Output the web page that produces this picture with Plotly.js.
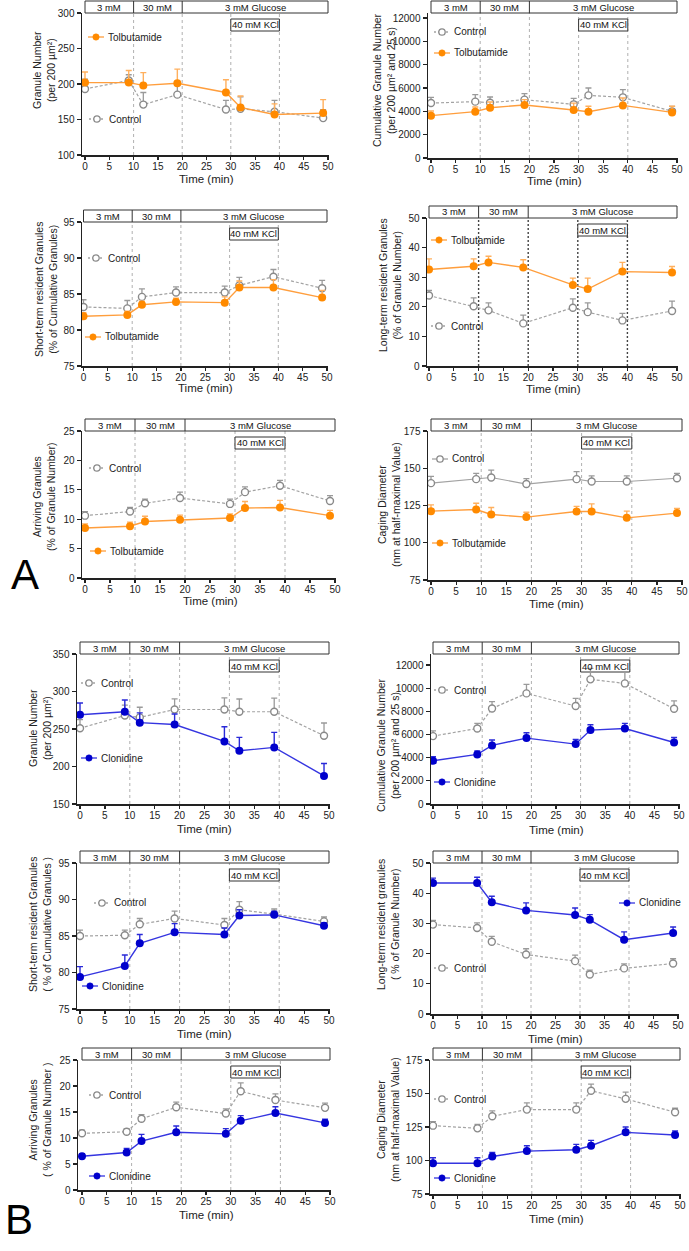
<!DOCTYPE html>
<html><head><meta charset="utf-8">
<script src="https://cdn.plot.ly/plotly-3.0.1.min.js"></script>
<style>body{margin:0;background:#fff}#chart{width:689px;height:1251px}</style>
</head><body><div id="chart"></div>
<script>
// ---------- DATA ----------
const time = [0, 9, 12, 19, 29, 32, 39, 49];
const timeTicks = [0, 5, 10, 15, 20, 25, 30, 35, 40, 45, 50];
const phaseLabels = ['3 mM', '30 mM', '3 mM Glucose'];
const kclLabel = '40 mM KCl';

// Panel A (Tolbutamide)
const a1Control = [193, 205, 171, 185, 164, 165, 161, 152];
const a1ControlErr = [14, 8, 17, 13, 13, 17, 16, 12];
const a1Tolb = [202, 202, 198, 201, 188, 167, 157, 159];
const a1TolbErr = [15, 17, 18, 20, 18, 16, 15, 19];

const a2Control = [4710, 4830, 4740, 5000, 4600, 5370, 5200, 4000];
const a2ControlErr = [490, 600, 490, 510, 510, 630, 660, 430];
const a2Tolb = [3630, 3970, 4310, 4540, 4110, 3970, 4510, 3910];
const a2TolbErr = [400, 400, 490, 460, 590, 460, 630, 520];

const a3Control = [83.2, 83.0, 84.6, 85.2, 85.2, 86.2, 87.4, 85.8];
const a3ControlErr = [1.0, 1.1, 1.1, 0.8, 0.9, 1.1, 1.0, 1.1];
const a3Tolb = [81.9, 82.1, 83.5, 83.9, 83.8, 85.9, 85.9, 84.5];
const a3TolbErr = [0.5, 0.5, 0.5, 0.5, 0.8, 0.9, 1.1, 1.0];

const a4Control = [23.8, 20.2, 18.8, 14.4, 19.7, 18.2, 15.4, 18.6];
const a4ControlErr = [1.7, 2.8, 2.5, 2.8, 3.0, 3.1, 2.4, 3.3];
const a4Tolb = [32.6, 33.7, 35.0, 33.3, 27.4, 26.0, 31.9, 31.6];
const a4TolbErr = [3.6, 2.5, 2.1, 2.6, 2.3, 3.7, 3.1, 2.0];

const a5Control = [10.6, 11.3, 12.7, 13.6, 12.6, 14.6, 15.7, 13.1];
const a5ControlErr = [0.7, 0.7, 0.7, 1.0, 0.8, 0.9, 0.9, 0.9];
const a5Tolb = [8.5, 8.8, 9.6, 9.9, 10.2, 11.9, 12.0, 10.6];
const a5TolbErr = [0.7, 0.7, 0.9, 0.8, 0.7, 1.1, 1.2, 0.9];

const a6Control = [140.0, 142.7, 143.8, 139.4, 142.7, 141.1, 141.1, 143.3];
const a6ControlErr = [4.5, 3.8, 4.9, 3.7, 5.1, 3.8, 3.8, 3.2];
const a6Tolb = [121.2, 122.3, 119.0, 117.2, 121.0, 121.0, 116.7, 119.9];
const a6TolbErr = [4.2, 4.2, 4.7, 3.3, 3.4, 5.1, 4.5, 3.1];

// Panel B (Clonidine)
const b1Control = [251, 268, 265.5, 276, 276, 273, 273, 241];
const b1ControlErr = [11.6, 13.8, 13.5, 14.2, 15.5, 17, 18.3, 17];
const b1Clon = [269, 273, 258.5, 256, 233.5, 221, 225.5, 187.5];
const b1ClonErr = [15.6, 15.6, 13, 14, 19.6, 17.8, 20, 16.5];

const b2Control = [5860, 6520, 8250, 9550, 8460, 10760, 10410, 8220];
const b2ControlErr = [460, 440, 580, 780, 660, 950, 1000, 690];
const b2Clon = [3730, 4280, 5060, 5690, 5170, 6380, 6520, 5310];
const b2ClonErr = [350, 290, 460, 460, 410, 460, 440, 430];

const b3Control = [85.0, 85.1, 86.6, 87.4, 86.5, 88.6, 88.0, 87.0];
const b3ControlErr = [0.8, 0.7, 0.8, 1.0, 0.9, 1.1, 0.7, 0.6];
const b3Clon = [79.4, 80.9, 84.0, 85.5, 85.2, 87.8, 87.9, 86.4];
const b3ClonErr = [1.4, 1.5, 1.2, 1.2, 0.9, 0.8, 0.5, 0.4];

const b4Control = [29.6, 28.5, 23.9, 19.7, 17.5, 13.1, 15.1, 16.7];
const b4ControlErr = [1.4, 1.7, 1.8, 1.9, 2.0, 1.4, 1.5, 1.6];
const b4Clon = [43.4, 43.4, 37.0, 34.3, 32.8, 31.2, 24.6, 26.8];
const b4ClonErr = [1.6, 1.9, 2.0, 2.5, 2.3, 1.7, 2.6, 2.0];

const b5Control = [10.9, 11.2, 13.7, 15.9, 14.7, 19.0, 17.3, 15.8];
const b5ControlErr = [0.6, 0.6, 0.8, 1.0, 0.9, 1.6, 1.2, 0.9];
const b5Clon = [6.5, 7.2, 9.4, 11.1, 10.8, 13.3, 14.8, 12.9];
const b5ClonErr = [0.5, 0.8, 1.3, 1.2, 1.0, 1.0, 1.2, 0.7];

const b6Control = [126, 124, 133, 138, 138, 152, 146, 136];
const b6ControlErr = [3, 3, 4, 5, 5, 5, 5, 3];
const b6Clon = [98, 98, 103, 107, 108, 111, 121, 119];
const b6ClonErr = [4, 4, 3, 4, 4, 4, 4, 3];

// Y tick values
const ticksGranule = [100, 150, 200, 250, 300];
const ticksGranuleB = [150, 200, 250, 300, 350];
const ticksCumul = [0, 2000, 4000, 6000, 8000, 10000, 12000];
const ticksShort = [75, 80, 85, 90, 95];
const ticksLong = [0, 10, 20, 30, 40, 50];
const ticksArriving = [0, 5, 10, 15, 20, 25];
const ticksCaging = [75, 100, 125, 150, 175];

// ---------- STYLE / LAYOUT CONFIG ----------
const W = 689, H = 1251;
const FONT = 'Liberation Sans, Arial, sans-serif';
const STY = {
  orange: {marker: '#ff8a00', line: '#ff9e3d', err: '#ffb05e'},
  blue: {marker: '#0000cc', line: '#3535e0', err: '#2a2ad8'},
  grey: {marker: '#8a8a8a', line: '#a3a3a3', err: '#9a9a9a'}
};

const panels = [
  {ctrl: a1Control, ctrlErr: a1ControlErr, trt: a1Tolb, trtErr: a1TolbErr, drug: 'Tolbutamide', color: 'orange', ctrlDash: true, vdark: false,
   axisPx: 82, x0Px: 85, x50Px: 328, topPx: 13, botPx: 155, cal: [[100, 155], [300, 13]], ticks: ticksGranule,
   title: 'Granule Number<br>(per 200 µm²)', titleX: 44, titleY: 70, timeY: 179, legCtrl: [97, 119], legTrt: [96, 37]},
  {ctrl: a2Control, ctrlErr: a2ControlErr, trt: a2Tolb, trtErr: a2TolbErr, drug: 'Tolbutamide', color: 'orange', ctrlDash: true, vdark: false,
   axisPx: 428, x0Px: 431, x50Px: 677, topPx: 13, botPx: 158, cal: [[0, 158], [12000, 18]], ticks: ticksCumul,
   title: 'Cumulative Granule Number<br>(per 200 µm² and 25 s)', titleX: 384, titleY: 80, timeY: 181, legCtrl: [442, 32], legTrt: [442, 53]},
  {ctrl: a3Control, ctrlErr: a3ControlErr, trt: a3Tolb, trtErr: a3TolbErr, drug: 'Tolbutamide', color: 'orange', ctrlDash: true, vdark: false,
   axisPx: 82, x0Px: 83.5, x50Px: 327, topPx: 222, botPx: 366, cal: [[75, 366], [95, 222]], ticks: ticksShort,
   title: 'Short-term resident Granules<br>(% of Cumulative Granules)', titleX: 46, titleY: 290, timeY: 388, legCtrl: [96, 258], legTrt: [93, 337]},
  {ctrl: a4Control, ctrlErr: a4ControlErr, trt: a4Tolb, trtErr: a4TolbErr, drug: 'Tolbutamide', color: 'orange', ctrlDash: true, vdark: true,
   axisPx: 427, x0Px: 429, x50Px: 677, topPx: 218, botPx: 366, cal: [[0, 366], [50, 218]], ticks: ticksLong,
   title: 'Long-term resident Granules<br>(% of Granule Number)', titleX: 390, titleY: 285, timeY: 389, legCtrl: [439, 326], legTrt: [439, 240]},
  {ctrl: a5Control, ctrlErr: a5ControlErr, trt: a5Tolb, trtErr: a5TolbErr, drug: 'Tolbutamide', color: 'orange', ctrlDash: true, vdark: false,
   axisPx: 82, x0Px: 85, x50Px: 335, topPx: 431, botPx: 578, cal: [[0, 578], [25, 431]], ticks: ticksArriving,
   title: 'Arriving Granules<br>(% of Granule Number)', titleX: 44, titleY: 497, timeY: 601, legCtrl: [97, 468], legTrt: [98, 551]},
  {ctrl: a6Control, ctrlErr: a6ControlErr, trt: a6Tolb, trtErr: a6TolbErr, drug: 'Tolbutamide', color: 'orange', ctrlDash: false, vdark: false,
   axisPx: 428, x0Px: 431, x50Px: 682, topPx: 431, botPx: 580, cal: [[75, 580], [175, 431]], ticks: ticksCaging,
   title: 'Caging Diameter<br>(nm at half-maximal Value)', titleX: 389, titleY: 505, timeY: 604, legCtrl: [440, 459], legTrt: [440, 543]},
  {ctrl: b1Control, ctrlErr: b1ControlErr, trt: b1Clon, trtErr: b1ClonErr, drug: 'Clonidine', color: 'blue', ctrlDash: true, vdark: false,
   axisPx: 77, x0Px: 80, x50Px: 329, topPx: 654, botPx: 804, cal: [[150, 804], [350, 654]], ticks: ticksGranuleB,
   title: 'Granule Number<br>(per 200 µm²)', titleX: 40, titleY: 728, timeY: 829, legCtrl: [89, 683], legTrt: [89, 758]},
  {ctrl: b2Control, ctrlErr: b2ControlErr, trt: b2Clon, trtErr: b2ClonErr, drug: 'Clonidine', color: 'blue', ctrlDash: true, vdark: false,
   axisPx: 431, x0Px: 433, x50Px: 679, topPx: 654, botPx: 804, cal: [[0, 804], [12000, 665]], ticks: ticksCumul,
   title: 'Cumulative Granule Number<br>(per 200 µm² and 25 s)', titleX: 388, titleY: 745, timeY: 830, legCtrl: [442, 690], legTrt: [442, 782]},
  {ctrl: b3Control, ctrlErr: b3ControlErr, trt: b3Clon, trtErr: b3ClonErr, drug: 'Clonidine', color: 'blue', ctrlDash: true, vdark: false,
   axisPx: 77, x0Px: 80, x50Px: 329, topPx: 863, botPx: 1009, cal: [[75, 1009], [95, 863]], ticks: ticksShort,
   title: 'Short-term resident Granules<br>( % of Cumulative Granules )', titleX: 40, titleY: 925, timeY: 1034, legCtrl: [102, 903], legTrt: [90, 986]},
  {ctrl: b4Control, ctrlErr: b4ControlErr, trt: b4Clon, trtErr: b4ClonErr, drug: 'Clonidine', color: 'blue', ctrlDash: true, vdark: false,
   axisPx: 431, x0Px: 433, x50Px: 678, topPx: 863, botPx: 1014, cal: [[0, 1014], [50, 863]], ticks: ticksLong,
   title: 'Long-term resident granules<br>( % of Granule Number)', titleX: 388, titleY: 925, timeY: 1039, legCtrl: [442, 968], legTrt: [627, 903]},
  {ctrl: b5Control, ctrlErr: b5ControlErr, trt: b5Clon, trtErr: b5ClonErr, drug: 'Clonidine', color: 'blue', ctrlDash: true, vdark: false,
   axisPx: 78, x0Px: 82, x50Px: 330, topPx: 1060, botPx: 1190, cal: [[0, 1190], [25, 1060]], ticks: ticksArriving,
   title: 'Arriving Granules<br>( % of Granule Number )', titleX: 40, titleY: 1120, timeY: 1215, legCtrl: [97, 1095], legTrt: [97, 1176]},
  {ctrl: b6Control, ctrlErr: b6ControlErr, trt: b6Clon, trtErr: b6ClonErr, drug: 'Clonidine', color: 'blue', ctrlDash: true, vdark: false,
   axisPx: 430, x0Px: 433, x50Px: 680, topPx: 1060, botPx: 1194, cal: [[75, 1194], [175, 1060]], ticks: ticksCaging,
   title: 'Caging Diameter<br>(nm at half-maximal Value)', titleX: 388, titleY: 1120, timeY: 1219, legCtrl: [442, 1099], legTrt: [442, 1178]}
];

const px = p => p / W;
const py = p => 1 - p / H;

const traces = [], shapes = [], annotations = [];
const layout = {
  width: W, height: H, margin: {l: 0, r: 0, t: 0, b: 0},
  paper_bgcolor: '#fff', plot_bgcolor: 'rgba(0,0,0,0)', showlegend: false,
  font: {family: FONT, color: '#222'}
};

panels.forEach((p, i) => {
  const n = i + 1;
  const xa = 'x' + (n === 1 ? '' : n), ya = 'y' + (n === 1 ? '' : n);
  const xk = 'xaxis' + (n === 1 ? '' : n), yk = 'yaxis' + (n === 1 ? '' : n);
  const pxPerX = (p.x50Px - p.x0Px) / 50;
  const xmin = -(p.x0Px - p.axisPx) / pxPerX;
  const [c1, c2] = p.cal;
  const vPerPx = (c2[0] - c1[0]) / (c1[1] - c2[1]);
  const yMin = c1[0] - (p.botPx - c1[1]) * vPerPx;
  const yMax = c1[0] + (c1[1] - p.topPx) * vPerPx;

  layout[xk] = {
    domain: [px(p.axisPx), px(p.x50Px + 1)], range: [xmin, 50 + 1 / pxPerX], anchor: ya,
    tickvals: timeTicks, ticks: 'outside', ticklen: 3, tickwidth: 1.2, tickcolor: '#222',
    ticklabelstandoff: -2,
    showline: true, linecolor: '#222', linewidth: 1.5, showgrid: false, zeroline: false,
    tickfont: {size: 10, family: FONT, color: '#222'}
  };
  layout[yk] = {
    domain: [py(p.botPx), py(p.topPx)], range: [yMin, yMax], anchor: xa,
    tickvals: p.ticks, tickformat: 'd', ticks: 'outside', ticklen: 4, tickwidth: 1.2, tickcolor: '#222',
    showline: true, linecolor: '#222', linewidth: 1.5, showgrid: false, zeroline: false,
    tickfont: {size: 10, family: FONT, color: '#222'}
  };

  const cs = STY.grey, ts = STY[p.color];
  traces.push({
    x: time, y: p.ctrl, xaxis: xa, yaxis: ya, type: 'scatter', mode: 'lines+markers', name: 'Control',
    line: {color: cs.line, width: 1.2, dash: p.ctrlDash ? '3px,2px' : 'solid'},
    marker: {symbol: 'circle', size: 7, color: '#fff', line: {color: cs.marker, width: 1.4}},
    error_y: {type: 'data', symmetric: false, array: p.ctrlErr, arrayminus: p.ctrlErr.map(() => 0), color: cs.err, thickness: 1.3, width: 3}
  });
  traces.push({
    x: time, y: p.trt, xaxis: xa, yaxis: ya, type: 'scatter', mode: 'lines+markers', name: p.drug,
    line: {color: ts.line, width: 1.4},
    marker: {symbol: 'circle', size: 8, color: ts.marker},
    error_y: {type: 'data', symmetric: false, array: p.trtErr, arrayminus: p.trtErr.map(() => 0), color: ts.err, thickness: 1.4, width: 3}
  });

  // vertical phase lines
  [10, 20, 30, 40].forEach(v => shapes.push({
    type: 'line', layer: 'below', xref: xa, yref: ya + ' domain', x0: v, x1: v, y0: 0, y1: 1,
    line: p.vdark ? {color: '#444', width: 1.4, dash: '2px,2px'} : {color: '#b0b0b0', width: 1, dash: '3px,3px'}
  }));
  // header box
  const hTop = py(p.topPx - 12), hBot = py(p.topPx);
  shapes.push({type: 'rect', xref: xa, yref: 'paper', x0: 0, x1: 50, y0: hBot, y1: hTop,
    line: {color: '#333', width: 1}, fillcolor: '#fff'});
  [10, 20].forEach(v => shapes.push({type: 'line', xref: xa, yref: 'paper', x0: v, x1: v, y0: hBot, y1: hTop,
    line: {color: '#333', width: 1}}));
  [5, 15, 35].forEach((v, k) => annotations.push({
    xref: xa, yref: 'paper', x: v, y: (hTop + hBot) / 2, text: phaseLabels[k], showarrow: false,
    font: {size: 9.5, family: FONT, color: '#111'}, xanchor: 'center', yanchor: 'middle'
  }));
  // KCl box
  const kTop = py(p.topPx + 6), kBot = py(p.topPx + 18);
  shapes.push({type: 'rect', layer: 'below', xref: xa, yref: 'paper', x0: 30, x1: 40, y0: kBot, y1: kTop,
    line: {color: '#333', width: 1}, fillcolor: '#fff'});
  annotations.push({xref: xa, yref: 'paper', x: 35, y: (kTop + kBot) / 2, text: kclLabel, showarrow: false,
    font: {size: 9.5, family: FONT, color: '#111'}, xanchor: 'center', yanchor: 'middle'});

  // y title
  annotations.push({xref: 'paper', yref: 'paper', x: px(p.titleX), y: py(p.titleY), text: p.title, textangle: -90,
    showarrow: false, xanchor: 'center', yanchor: 'middle', font: {size: 10.5, family: FONT, color: '#222'}});
  // x title
  annotations.push({xref: xa, yref: 'paper', x: 25, y: py(p.timeY), text: 'Time (min)', showarrow: false,
    xanchor: 'center', yanchor: 'middle', font: {size: 11.5, family: FONT, color: '#222'}});

  // legend samples
  const leg = (pos, name, isCtrl) => {
    const [lx, ly] = pos;
    const s = isCtrl ? cs : ts;
    shapes.push({type: 'line', xref: 'paper', yref: 'paper', x0: px(lx - 8), x1: px(lx + 8), y0: py(ly), y1: py(ly),
      line: {color: s.line, width: 1.3, dash: isCtrl && p.ctrlDash ? '2px,2px' : 'solid'}});
    shapes.push({type: 'circle', xref: 'paper', yref: 'paper', xsizemode: 'pixel', ysizemode: 'pixel',
      xanchor: px(lx), yanchor: py(ly), x0: -3.2, x1: 3.2, y0: -3.2, y1: 3.2,
      fillcolor: isCtrl ? '#fff' : s.marker, line: {color: s.marker, width: isCtrl ? 1.3 : 0.5}});
    annotations.push({xref: 'paper', yref: 'paper', x: px(lx + 10), y: py(ly), text: name, showarrow: false,
      xanchor: 'left', yanchor: 'middle', font: {size: 10, family: FONT, color: '#222'}});
  };
  leg(p.legCtrl, 'Control', true);
  leg(p.legTrt, p.drug, false);
});

annotations.push({xref: 'paper', yref: 'paper', x: px(25), y: py(574), text: 'A', showarrow: false,
  xanchor: 'center', yanchor: 'middle', font: {size: 42, family: FONT, color: '#000'}});
annotations.push({xref: 'paper', yref: 'paper', x: px(19), y: py(1219), text: 'B', showarrow: false,
  xanchor: 'center', yanchor: 'middle', font: {size: 42, family: FONT, color: '#000'}});

layout.shapes = shapes;
layout.annotations = annotations;
Plotly.newPlot('chart', traces, layout, {staticPlot: true, displayModeBar: false});
</script>
</body></html>
